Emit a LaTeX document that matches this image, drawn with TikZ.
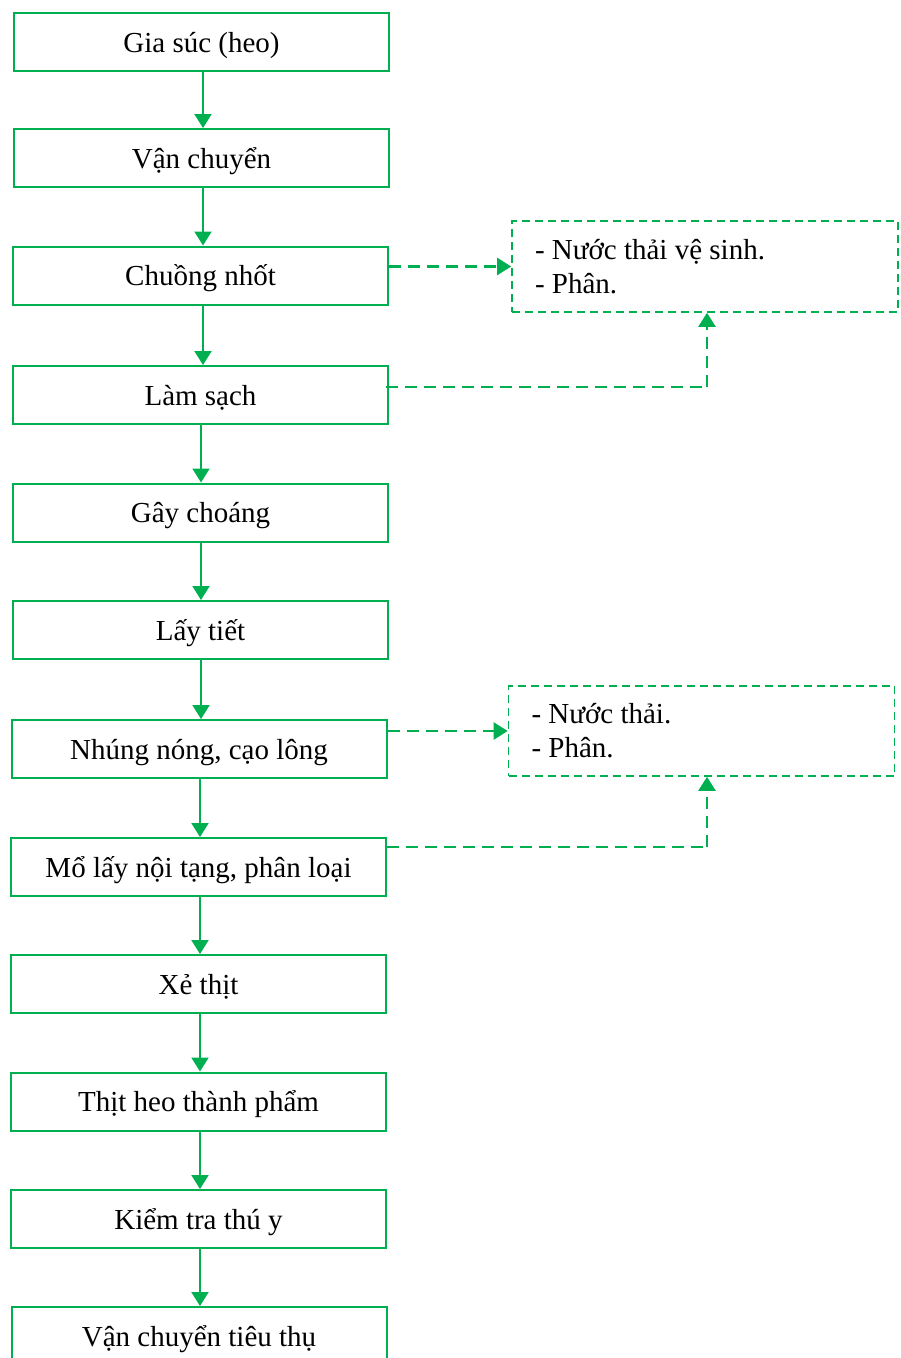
\documentclass[tikz,border=0pt]{standalone}
\usepackage{fontspec}
\setmainfont{Liberation Serif}
\usetikzlibrary{arrows.meta}
\definecolor{lgreen}{RGB}{0,176,80}
\tikzset{
  stepbox/.style={draw=lgreen, line width=2pt, fill=white, minimum width=375pt, minimum height=58pt, inner sep=0pt, text height=26pt, text depth=6pt, font=\fontsize{29}{34}\selectfont},
  wastebox/.style={draw=lgreen, line width=1.6pt, dash pattern=on 8pt off 5pt, minimum height=91pt, text width=340pt, inner xsep=23pt, inner ysep=0pt, align=flush left, font=\fontsize{29}{34}\selectfont},
  flow/.style={draw=lgreen, line width=2pt, -{Triangle[length=14pt,width=17pt]}},
  waste/.style={draw=lgreen, line width=2.4pt, dash pattern=on 12pt off 7pt, -{Triangle[length=14pt,width=17pt]}},
  wasteline/.style={draw=lgreen, line width=2.4pt, dash pattern=on 12pt off 7pt}
}
\begin{document}
\begin{tikzpicture}[x=1pt,y=-1pt]
\useasboundingbox (0,0) rectangle (900,1358);
\clip (0,0) rectangle (900,1358);
\node[stepbox] (s1) at (201.5,42) {Gia súc (heo)};
\node[stepbox] (s2) at (201.5,158) {Vận chuyển};
\node[stepbox] (s3) at (200.5,275.5) {Chuồng nhốt};
\node[stepbox] (s4) at (200.5,395) {Làm sạch};
\node[stepbox] (s5) at (200.5,512.5) {Gây choáng};
\node[stepbox] (s6) at (200.5,630) {Lấy tiết};
\node[stepbox] (s7) at (199,749) {Nhúng nóng, cạo lông};
\node[stepbox] (s8) at (198.5,867) {Mổ lấy nội tạng, phân loại};
\node[stepbox] (s9) at (198.5,984) {Xẻ thịt};
\node[stepbox] (s10) at (198.5,1101.5) {Thịt heo thành phẩm};
\node[stepbox] (s11) at (198.5,1219) {Kiểm tra thú y};
\node[stepbox] (s12) at (199,1336) {Vận chuyển tiêu thụ};

\node[wastebox] (w1) at (705,266.5) {- Nước thải vệ sinh.\\- Phân.};
\node[wastebox, minimum height=90pt] (w2) at (701.5,731) {- Nước thải.\\- Phân.};

\coordinate (c1) at (203,0);
\coordinate (c2) at (201,0);
\coordinate (c3) at (200,0);
\draw[flow] (s1.south -| c1) -- (s2.north -| c1);
\draw[flow] (s2.south -| c1) -- (s3.north -| c1);
\draw[flow] (s3.south -| c1) -- (s4.north -| c1);
\draw[flow] (s4.south -| c2) -- (s5.north -| c2);
\draw[flow] (s5.south -| c2) -- (s6.north -| c2);
\draw[flow] (s6.south -| c2) -- (s7.north -| c2);
\draw[flow] (s7.south -| c3) -- (s8.north -| c3);
\draw[flow] (s8.south -| c3) -- (s9.north -| c3);
\draw[flow] (s9.south -| c3) -- (s10.north -| c3);
\draw[flow] (s10.south -| c3) -- (s11.north -| c3);
\draw[flow] (s11.south -| c3) -- (s12.north -| c3);

\draw[waste] (s3.east |- w1.west) -- (w1.west);
\draw[waste] (s7.east |- w2.west) -- (w2.west);

\coordinate (k1) at (707,387);
\coordinate (k2) at (707,847);
\draw[wasteline] ([xshift=-3pt]s4.east |- k1) -- (k1);
\draw[waste] (k1) -- (k1 |- w1.south);
\draw[wasteline] (s8.east |- k2) -- (k2);
\draw[waste] (k2) -- (k2 |- w2.south);
\end{tikzpicture}
\end{document}
